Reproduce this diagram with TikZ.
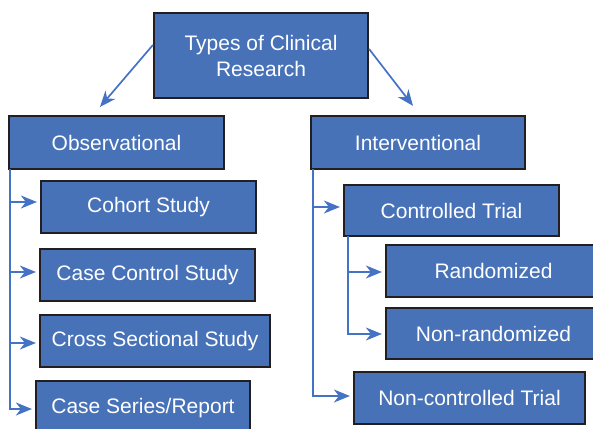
\documentclass[tikz,border=0pt]{standalone}
\usepackage{fontspec}
\setmainfont{Liberation Sans}
\usetikzlibrary{arrows.meta}
\definecolor{boxfill}{RGB}{72,114,184}
\definecolor{boxedge}{RGB}{35,31,32}
\definecolor{linkblue}{RGB}{68,114,196}
\begin{document}
\begin{tikzpicture}[x=1pt,y=-1pt,
  box/.style={draw=boxedge, line width=2.2pt, fill=boxfill, text=white,
    inner sep=0pt, align=center,
    font=\fontsize{21}{26}\selectfont},
  link/.style={draw=linkblue, line width=1.7pt,
    -{Stealth[length=16pt,width=13pt,inset=5pt]}},
  branch/.style={link, shorten >=3pt}]
\useasboundingbox (0,0) rectangle (593,428);
\begin{scope}
\clip (0,0) rectangle (593,428);
% root
\node[box, minimum width=214pt, minimum height=85pt] (root) at (261,55.5)
  {Types of Clinical\\Research};
% two main families
\node[box, minimum width=215pt, minimum height=53pt] (obs) at (116.5,142.5) {Observational};
\node[box, minimum width=214pt, minimum height=53pt] (int) at (418,142.5) {Interventional};
% observational designs
\node[box, minimum width=215pt, minimum height=52pt] (cohort) at (148.5,207) {Cohort Study};
\node[box, minimum width=215pt, minimum height=52pt] (casectl) at (147.5,275) {Case Control Study};
\node[box, minimum width=230pt, minimum height=52pt] (cross) at (155,341) {Cross Sectional Study};
\node[box, minimum width=214pt, minimum height=54pt] (series) at (143,408) {Case Series/Report};
% interventional designs
\node[box, minimum width=215pt, minimum height=51pt] (ctl) at (451.5,210.5) {Controlled Trial};
\node[box, minimum width=215pt, minimum height=52pt] (rand) at (493.5,271) {Randomized};
\node[box, minimum width=215pt, minimum height=51pt] (nonrand) at (493.5,333.5) {Non-randomized};
\node[box, minimum width=231pt, minimum height=52pt] (nonctl) at (469.5,398) {Non-controlled Trial};
\end{scope}
% root to families
\draw[link] ([yshift=10.5pt]root.west) -- ([xshift=-16.5pt,yshift=8pt]obs.north);
\draw[link] ([yshift=6.5pt]root.east) -- ([xshift=-5pt,yshift=9pt]int.north);
% observational spine
\draw[branch] ([xshift=2pt,yshift=1pt]obs.south west) |- ([yshift=5pt]cohort.west);
\draw[branch] ([xshift=2pt,yshift=1pt]obs.south west) |- ([yshift=3pt]casectl.west);
\draw[branch] ([xshift=2pt,yshift=1pt]obs.south west) |- ([yshift=-2pt]cross.west);
\draw[branch] ([xshift=2pt,yshift=1pt]obs.south west) |- ([yshift=-1pt]series.west);
% interventional spine
\draw[branch] ([xshift=3pt,yshift=1pt]int.south west) |- ([yshift=3.5pt]ctl.west);
\draw[branch] ([xshift=3pt,yshift=1pt]int.south west) |- ([yshift=2pt]nonctl.west);
% controlled trial spine
\draw[branch] ([xshift=5pt,yshift=1pt]ctl.south west) |- ([yshift=-1pt]rand.west);
\draw[branch] ([xshift=5pt,yshift=1pt]ctl.south west) |- ([yshift=-0.5pt]nonrand.west);
\end{tikzpicture}
\end{document}
